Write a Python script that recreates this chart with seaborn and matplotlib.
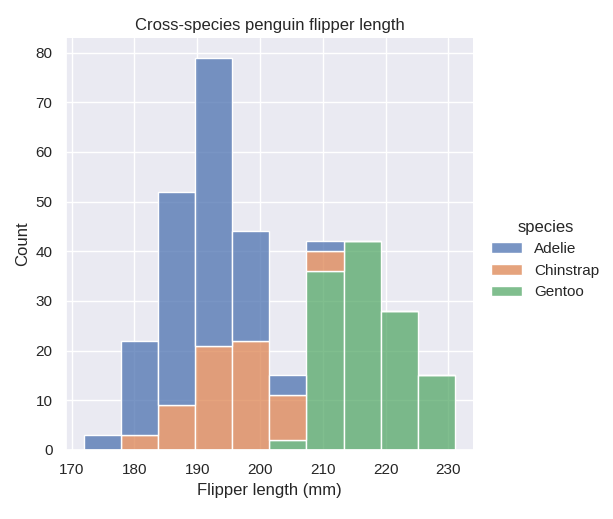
import numpy as np
import pandas as pd
import seaborn as sns
import matplotlib
matplotlib.use("Agg")
import matplotlib.pyplot as plt

# Bin edges (10 bins from 172 to 231 mm)
bin_lo = 172.0
bin_hi = 231.0
n_bins = 10

species = ["Adelie", "Chinstrap", "Gentoo"]
adelie_counts    = [3, 19, 43, 58, 22, 4, 2, 0, 0, 0]
chinstrap_counts = [0, 3, 9, 21, 22, 9, 4, 0, 0, 0]
gentoo_counts    = [0, 0, 0, 0, 0, 2, 36, 42, 28, 15]

edges = np.linspace(bin_lo, bin_hi, n_bins + 1)
centers = (edges[:-1] + edges[1:]) / 2

rows = []
for sp, counts in zip(species, [adelie_counts, chinstrap_counts, gentoo_counts]):
    for c, n in zip(centers, counts):
        rows.append({"flipper_length_mm": c, "species": sp, "w": n})
df = pd.DataFrame(rows)

sns.set_theme(style="darkgrid")
plt.rcParams["font.family"] = ["Liberation Sans", "DejaVu Sans"]
g = sns.displot(data=df, x="flipper_length_mm", hue="species", weights="w",
                hue_order=species, multiple="stack",
                bins=n_bins, binrange=(bin_lo, bin_hi), height=5)
g.set_axis_labels("Flipper length (mm)", "Count")
ax = g.ax
ax.set_title("Cross-species penguin flipper length")

fig = g.figure
fig.set_size_inches(6.13, 5.19)
fig.subplots_adjust(left=0.107, right=0.772, top=0.927, bottom=0.133)
fig.savefig("out.png", dpi=100)
